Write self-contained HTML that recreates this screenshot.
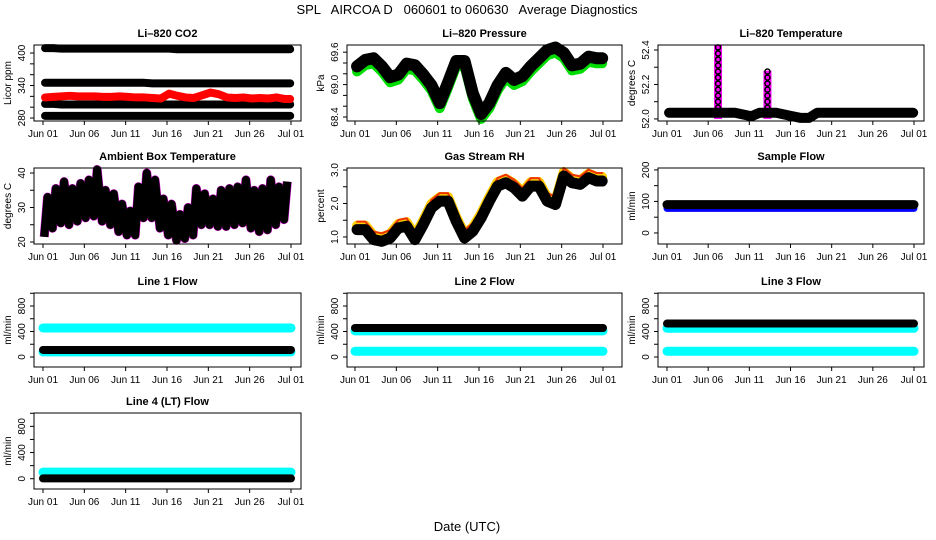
<!DOCTYPE html>
<html><head><meta charset="utf-8">
<style>
html,body{margin:0;padding:0;background:#fff;}
svg{display:block;font-family:"Liberation Sans",Arial,sans-serif;}
text{white-space:pre;}
</style></head>
<body>
<svg id="chart" width="936" height="540" viewBox="0 0 936 540" xmlns="http://www.w3.org/2000/svg">
<text x="467" y="14" text-anchor="middle" font-size="13" xml:space="preserve">SPL   AIRCOA D   060601 to 060630   Average Diagnostics</text>
<text x="467" y="531" text-anchor="middle" font-size="13">Date (UTC)</text>
</svg>
<script>
// x tick labels (days since Jun 01)
const xTickDays = [0,5,10,15,20,25,30];
const xTickLabels = ["Jun 01","Jun 06","Jun 11","Jun 16","Jun 21","Jun 26","Jul 01"];

// Li-820 CO2 (ppm) daily values
const co2Band1 = [409,409,408,408,408,408,408,408,408,408,408,408,408,408,408,408,407,407,407,407,407,407,407,407,407,407,407,407,407,407];
const co2Band2 = [345,345,345,345,345,345,345,345,345,345,345,345,345,344,344,344,344,344,344,344,344,344,344,344,344,344,344,344,344,344];
const co2Red   = [318,319,320,321,320,320,320,319,319,320,319,318,318,317,316,325,321,318,317,322,327,324,318,317,318,316,317,316,318,315];
const co2Band3 = [306,306,305,305,305,305,305,305,305,305,305,305,305,305,305,305,305,305,305,305,305,305,305,305,305,305,305,305,305,305];
const co2Band4 = [284,284,284,284,284,284,284,284,284,284,284,284,284,284,284,284,284,284,284,284,284,284,284,284,284,284,284,284,284,284];

// Li-820 Pressure (kPa)
const pressure = [69.3,69.42,69.45,69.3,69.1,69.15,69.35,69.32,69.15,68.95,68.62,69.0,69.4,69.4,68.8,68.42,68.62,68.95,69.18,69.05,69.12,69.3,69.45,69.6,69.65,69.55,69.32,69.35,69.48,69.45];

// Li-820 Temperature (C)
const tempBase = [52.03,52.03,52.03,52.03,52.03,52.03,52.03,52.03,52.03,52.02,52.01,52.03,52.03,52.03,52.02,52.01,52.0,52.0,52.03,52.03,52.03,52.03,52.03,52.03,52.03,52.03,52.03,52.03,52.03,52.03];
const tempSpikeDays = [6.2,12.2];
const tempSpikeMax = [52.43,52.28];

// Ambient box temperature daily min / max
const ambMax = [33,35.5,37.5,35.5,37,38,41,35,34,31,29,36,40,38,32.5,31,28,30,35.5,34,32.5,35,35.5,36,38,35,35.5,38,36,37.5];
const ambMin = [21.5,24,25.5,25,26,27,27.5,26,25,23,22,22,27,27,24,22,20.5,21,22,25,25,24.5,24.5,25,25.5,24,23,23.5,25,26.5];

// Gas stream RH (percent)
const rh = [1.25,1.25,0.95,0.9,1.0,1.3,1.35,0.95,1.4,1.9,2.1,2.1,1.5,1.0,1.2,1.6,2.1,2.55,2.65,2.5,2.25,2.55,2.55,2.1,2.0,2.85,2.65,2.6,2.8,2.7];

// Flows (ml/min)
const sampleFlowBlack = 90, sampleFlowBlue = 78;
const line1Cyan = [455,80], line1Black = 110;
const line2Cyan = [410,90], line2Black = 455;
const line3Cyan = [450,90], line3Black = 525;
const line4Cyan = [100], line4Black = 5;

const NS = "http://www.w3.org/2000/svg";
const svg = document.getElementById('chart');
const cols = [{l:34,r:301,x0:43,x1:291},{l:347,r:622,x0:355,x1:603},{l:658,r:924,x0:667,x1:914}];
const rows = [{t:45,b:121},{t:168,b:244},{t:293,b:367},{t:413,b:489}];

function el(tag, attrs, parent){
  const e = document.createElementNS(NS, tag);
  for (const k in attrs) e.setAttribute(k, attrs[k]);
  (parent||svg).appendChild(e);
  return e;
}

function panel(ci, ri, title, ylabel, dom, ticks, labels, name){
  const c = cols[ci], r = rows[ri];
  const g = el('g', {});
  
  
  const xs = d => c.x0 + (c.x1 - c.x0) * d / 30;
  const ys = v => r.b - (v - dom[0]) / (dom[1] - dom[0]) * (r.b - r.t);
  const plot = el('g', {}, g);
  
  
  const box = el('rect', {x:c.l, y:r.t, width:c.r-c.l, height:r.b-r.t, fill:'none', stroke:'#000', 'stroke-width':1}, g);
  
  
  const t = el('text', {x:(c.l+c.r)/2, y:r.t-8, 'text-anchor':'middle', 'font-size':11, 'font-weight':'bold'}, g);
  t.textContent = title;
  
  
  const xa = el('g', {}, g);
  
  
  el('line', {x1:c.x0, x2:c.x1, y1:r.b, y2:r.b, stroke:'#000'}, xa);
  xTickDays.forEach((d, i) => {
    el('line', {x1:xs(d), x2:xs(d), y1:r.b, y2:r.b+4, stroke:'#000'}, xa);
    const tl = el('text', {x:xs(d), y:r.b+16, 'text-anchor':'middle', 'font-size':10}, xa);
    tl.textContent = xTickLabels[i];
    
    
  });
  const ya = el('g', {}, g);
  
  
  const ty = ticks.map(ys);
  el('line', {x1:c.l, x2:c.l, y1:Math.min(...ty), y2:Math.max(...ty), stroke:'#000'}, ya);
  ticks.forEach(v => {
    const y = ys(v);
    el('line', {x1:c.l-4, x2:c.l, y1:y, y2:y, stroke:'#000'}, ya);
  });
  labels.forEach(v => {
    const y = ys(parseFloat(v));
    const tl = el('text', {x:0, y:0, 'text-anchor':'middle', 'font-size':10, transform:`translate(${c.l-9},${y}) rotate(-90)`}, ya);
    tl.textContent = v;
    
    
  });
  const yl = el('text', {x:0, y:0, 'text-anchor':'middle', 'font-size':10, transform:`translate(${c.l-23},${(r.t+r.b)/2}) rotate(-90)`}, g);
  yl.textContent = ylabel;
  
  
  return {xs, ys, plot};
}

function series(p, vals, color, w, off){
  const pts = vals.map((v, i) => `${p.xs(i + 0.25)},${p.ys(v) + (off||0)}`);
  pts.push(`${p.xs(29.9)},${p.ys(vals[vals.length-1]) + (off||0)}`);
  return el('polyline', {points:pts.join(' '), fill:'none', stroke:color, 'stroke-width':w, 'stroke-linejoin':'round', 'stroke-linecap':'round'}, p.plot);
}
function flat(p, v, color, w){
  return el('line', {x1:p.xs(0), x2:p.xs(30), y1:p.ys(v), y2:p.ys(v), stroke:color, 'stroke-width':w, 'stroke-linecap':'round'}, p.plot);
}

// Panel 1: CO2
let p = panel(0,0,'Li\u2013820 CO2','Licor ppm',[274.5,414.8],[280,300,320,340,360,380,400],['280','340','400'],'co2');
[co2Band1,co2Band2,co2Band3,co2Band4].forEach(b => { const s = series(p,b,'#000',8);   });
let s = series(p,co2Red,'#f00',8);  

// Panel 2: Pressure
p = panel(1,0,'Li\u2013820 Pressure','kPa',[68.326,69.733],[68.4,68.6,68.8,69.0,69.2,69.4,69.6],['68.4','69.0','69.6'],'pressure');
s = series(p,pressure,'#0d0',10,3);  
s = series(p,pressure,'#000',12,-2);  

// Panel 3: Temperature
p = panel(2,0,'Li\u2013820 Temperature','degrees C',[51.988,52.429],[52.0,52.1,52.2,52.3,52.4],['52.0','52.2','52.4'],'temperature');
tempSpikeDays.forEach((d,i) => {
  const r1 = el('rect',{x:p.xs(d)-4,y:p.ys(tempSpikeMax[i]),width:8,height:p.ys(52.0)-p.ys(tempSpikeMax[i]),fill:'#f0f'},p.plot);
   
  for (let v = 52.03; v <= tempSpikeMax[i]; v += 0.035) {
    const c1 = el('circle',{cx:p.xs(d),cy:p.ys(v),r:2.5,fill:'none',stroke:'#000','stroke-width':1.5},p.plot);
     
  }
});
s = series(p,tempBase,'#000',10,-1);  

// Panel 4: Ambient box temperature
p = panel(0,1,'Ambient Box Temperature','degrees C',[19.42,41.45],[20,25,30,35,40],['20','30','40'],'ambient-temperature');
{
  const pts = [];
  ambMax.forEach((v,i) => { pts.push(`${p.xs(i+0.15)},${p.ys(ambMin[i])}`); pts.push(`${p.xs(i+0.55)},${p.ys(v)}`); });
  const pm = el('polyline',{points:pts.join(' '),fill:'none',stroke:'#c0c',"stroke-width":9,'stroke-linejoin':'round'},p.plot);
   
  const pl = el('polyline',{points:pts.join(' '),fill:'none',stroke:'#000',"stroke-width":8,'stroke-linejoin':'round'},p.plot);
   
}

// Panel 5: RH
p = panel(1,1,'Gas Stream RH','percent',[0.79,3.06],[1.0,1.5,2.0,2.5,3.0],['1.0','2.0','3.0'],'gas-stream-rh');
s = series(p,rh,'#fc0',10,-3);  
s = series(p,rh,'#e30',2,-7);  
s = series(p,rh,'#000',11,1);  

// Panel 6: Sample flow
p = panel(2,1,'Sample Flow','ml/min',[-35,206],[0,50,100,150,200],['0','100','200'],'sample-flow');
s = flat(p,sampleFlowBlue,'#00f',7);  
s = flat(p,sampleFlowBlack,'#000',9);  

// Line flows
const flowDom = [-157,1004], flowTicks = [0,200,400,600,800,1000], flowLabels = ['0','400','800'];
function flowPanel(ci,ri,title,name,cyan,black,blackW){
  const q = panel(ci,ri,title,'ml/min',flowDom,flowTicks,flowLabels,name);
  cyan.forEach(v => { const a = flat(q,v,'#0ff',9);   });
  const b = flat(q,black,'#000',blackW);  
}
flowPanel(0,2,'Line 1 Flow','line1-flow',line1Cyan,line1Black,8);
flowPanel(1,2,'Line 2 Flow','line2-flow',line2Cyan,line2Black,8);
flowPanel(2,2,'Line 3 Flow','line3-flow',line3Cyan,line3Black,8);
flowPanel(0,3,'Line 4 (LT) Flow','line4-flow',line4Cyan,line4Black,8);
</script>
</body></html>
